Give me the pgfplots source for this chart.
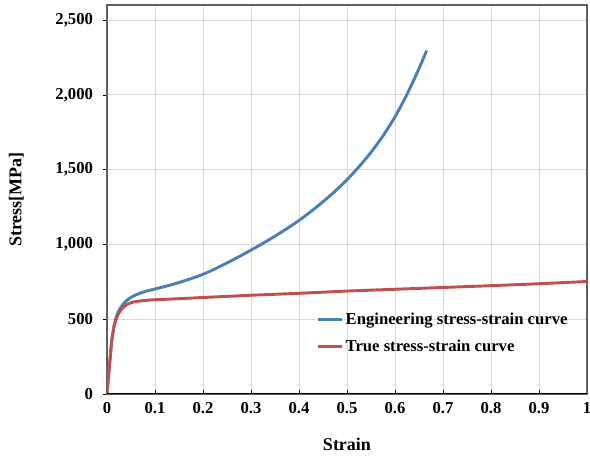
\documentclass[border=0pt]{standalone}
\usepackage{fontspec}
\setmainfont{Liberation Serif}
\usepackage{pgfplots}
\pgfplotsset{compat=1.18}
\definecolor{engblue}{RGB}{74,126,187}
\definecolor{truered}{RGB}{192,80,77}
\definecolor{gridgray}{RGB}{217,217,217}

\begin{document}
\begin{tikzpicture}
\useasboundingbox (-80.25pt,-47.25pt) rectangle (362.25pt,295.5pt);
\begin{axis}[
  scale only axis,
  width=360pt, height=291.75pt,
  xmin=0, xmax=1, ymin=0, ymax=2600,
  xtick={0,0.1,...,1.01},
  ytick={0,500,1000,1500,2000,2500},
  xticklabels={0,0.1,0.2,0.3,0.4,0.5,0.6,0.7,0.8,0.9,1},
  /pgf/number format/assume math mode=true,
  /pgf/number format/1000 sep={,},
  xtick pos=bottom, ytick pos=left,
  x tick style={black}, y tick style={black},
  xtick align=inside, ytick align=outside,
  major tick length=3pt,
  grid=major, grid style={gridgray, line width=0.6pt},
  axis line style={gray!75!black, line width=0.8pt},
  tick label style={font=\fontsize{12.5}{14}\selectfont\bfseries},
  yticklabel style={xshift=-4pt},
  xticklabel style={yshift=-3pt},
  label style={font=\fontsize{13.5}{16}\selectfont\bfseries},
  xlabel={Strain},
  ylabel={Stress[MPa]},
  xlabel style={at={(axis description cs:0.5,-0.1285)}, anchor=center},
  ylabel style={at={(axis description cs:-0.189,0.5)}, anchor=center},
  legend style={draw=none, fill=none, at={(axis description cs:0.435,0.216)},
    anchor=north west, font=\fontsize{12.5}{14}\selectfont\bfseries,
    row sep=6pt, inner sep=0pt},
  legend cell align=left,
  legend image code/.code={\draw[#1, line width=2.2pt] (0pt,0pt) -- (18pt,0pt);},
]
\addplot[engblue, line width=2.2pt, line join=round, smooth, tension=0.3] coordinates {
  (0,0) (0.003,110) (0.006,220) (0.01,360) (0.015,460) (0.02,520) (0.025,558)
  (0.03,585) (0.04,622) (0.05,646) (0.06,662) (0.07,675) (0.085,690) (0.1,702)
  (0.125,722) (0.15,745) (0.175,771) (0.2,800) (0.225,836) (0.25,876)
  (0.275,918) (0.3,962) (0.325,1007) (0.35,1055) (0.375,1106) (0.4,1160)
  (0.425,1220) (0.45,1285) (0.475,1355) (0.5,1432) (0.525,1519) (0.55,1615)
  (0.575,1725) (0.6,1852) (0.625,2002) (0.65,2175) (0.666,2295)};
\addplot[truered, line width=2.2pt, line join=round, smooth, tension=0.3] coordinates {
  (0,0) (0.003,110) (0.006,220) (0.01,360) (0.015,455) (0.02,510) (0.025,543)
  (0.03,565) (0.04,595) (0.05,610) (0.06,618) (0.07,622) (0.085,627) (0.1,630)
  (0.15,637) (0.2,645) (0.3,660) (0.4,673) (0.5,688) (0.6,700) (0.7,712)
  (0.8,724) (0.9,737) (1,752)};
\draw[black, line width=1pt] (rel axis cs:0,0) -- (rel axis cs:1,0);
\legend{Engineering stress-strain curve, True stress-strain curve}
\end{axis}
\end{tikzpicture}
\end{document}
